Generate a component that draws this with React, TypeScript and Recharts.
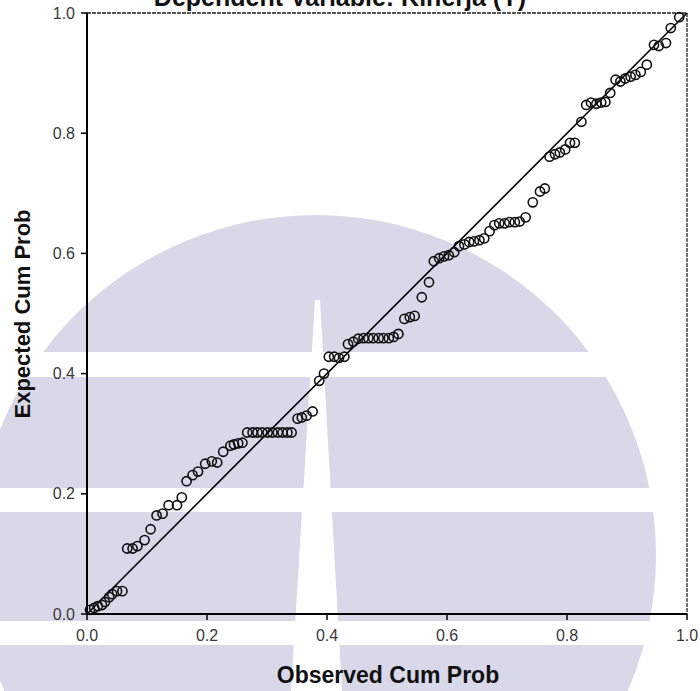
import React from "react";
import { ScatterChart, Scatter, XAxis, YAxis, ReferenceLine, ReferenceArea } from "recharts";

// Normal P-P plot of regression standardized residual
const chartTitle = "Dependent Variable: Kinerja (Y)";
const xTitle = "Observed Cum Prob";
const yTitle = "Expected Cum Prob";

const axisTicks = [0, 0.2, 0.4, 0.6, 0.8, 1.0];

const observedCumProb = [
  0.005, 0.012, 0.018, 0.025, 0.03, 0.037, 0.042, 0.05, 0.059, 0.067,
  0.076, 0.084, 0.096, 0.106, 0.116, 0.126, 0.136, 0.15, 0.158, 0.166,
  0.176, 0.185, 0.197, 0.208, 0.217, 0.227, 0.239, 0.245, 0.252, 0.259,
  0.267, 0.276, 0.284, 0.292, 0.301, 0.309, 0.318, 0.326, 0.334, 0.341,
  0.351, 0.358, 0.366, 0.376, 0.387, 0.395, 0.403, 0.412, 0.42, 0.429,
  0.435, 0.444, 0.452, 0.461, 0.469, 0.477, 0.486, 0.494, 0.503, 0.511,
  0.519, 0.529, 0.538, 0.546, 0.558, 0.57, 0.578, 0.587, 0.595, 0.603,
  0.612, 0.62, 0.629, 0.637, 0.645, 0.654, 0.662, 0.671, 0.679, 0.687,
  0.696, 0.704, 0.713, 0.721, 0.731, 0.743, 0.755, 0.763, 0.771, 0.78,
  0.788, 0.797, 0.805, 0.813, 0.824, 0.832, 0.84, 0.849, 0.857, 0.864,
  0.872, 0.881, 0.889, 0.897, 0.906, 0.914, 0.923, 0.933, 0.945, 0.953,
  0.965, 0.973, 0.987,
];

const expectedCumProb = [
  0.007, 0.01, 0.013, 0.015, 0.02, 0.028, 0.033, 0.038, 0.038, 0.109,
  0.109, 0.113, 0.123, 0.141, 0.164, 0.167, 0.181, 0.181, 0.194, 0.221,
  0.231, 0.237, 0.25, 0.254, 0.252, 0.27, 0.28, 0.282, 0.284, 0.285,
  0.302, 0.302, 0.302, 0.302, 0.302, 0.302, 0.302, 0.302, 0.302, 0.302,
  0.325, 0.327, 0.33, 0.337, 0.388, 0.4, 0.428, 0.428, 0.426, 0.428,
  0.449, 0.453, 0.458, 0.459, 0.459, 0.459, 0.459, 0.459, 0.459, 0.461,
  0.466, 0.491, 0.494, 0.496, 0.527, 0.552, 0.587, 0.592, 0.595, 0.597,
  0.602, 0.612, 0.615, 0.619, 0.62, 0.622, 0.625, 0.637, 0.647, 0.65,
  0.65, 0.652, 0.652, 0.653, 0.66, 0.685, 0.703, 0.708, 0.761, 0.765,
  0.768, 0.773, 0.784, 0.784, 0.819, 0.847, 0.851, 0.849, 0.851, 0.852,
  0.867, 0.889, 0.886, 0.891, 0.894, 0.897, 0.902, 0.914, 0.947, 0.945,
  0.95, 0.975, 0.993,
];

const points = observedCumProb.map((x, i) => ({ x, y: expectedCumProb[i] }));

const FONT = "'Liberation Sans', Arial, sans-serif";

const OpenCircle = (props: any) => {
  const { cx, cy } = props;
  if (cx == null || cy == null) return null;
  return <circle cx={cx} cy={cy} r={4.6} fill="none" stroke="#111" strokeWidth={1.6} />;
};

// faded logo watermark behind the plot
const Watermark = () => (
  <svg width={700} height={691} style={{ position: "absolute", left: 0, top: 0 }}>
    <rect x={0} y={0} width={700} height={691} fill="#fff" />
    <circle cx={316} cy={555} r={340} fill="#d9d8e9" />
    <rect x={0} y={352} width={700} height={25} fill="#fff" />
    <rect x={0} y={488} width={700} height={24} fill="#fff" />
    <rect x={0} y={621} width={700} height={24} fill="#fff" />
    <polygon points="315,300 320,300 342,691 291,691" fill="#fff" />
  </svg>
);

export default function App() {
  return (
    <div style={{ position: "absolute", left: 0, top: 0, width: 700, height: 691, overflow: "hidden" }}>
      <Watermark />
      <div style={{ position: "absolute", left: 0, top: 0 }}>
        <ScatterChart width={700} height={691} margin={{ top: 13, right: 13, bottom: 0, left: 0 }}>
          <ReferenceArea x1={0} x2={1} y1={0} y2={1} fill="none" stroke="#222" strokeWidth={1.3} strokeDasharray="4 1" />
          <XAxis
            type="number"
            dataKey="x"
            domain={[0, 1]}
            ticks={axisTicks}
            tickFormatter={(v: number) => v.toFixed(1)}
            height={77}
            axisLine={{ stroke: "#000", strokeWidth: 2 }}
            tickLine={{ stroke: "#000", strokeWidth: 1.5 }}
            tickSize={6}
            tickMargin={10}
            tick={{ fill: "#3a3a3a", fontSize: 16, fontFamily: FONT }}
          />
          <YAxis
            type="number"
            dataKey="y"
            domain={[0, 1]}
            ticks={axisTicks}
            tickFormatter={(v: number) => v.toFixed(1)}
            width={87}
            axisLine={{ stroke: "#000", strokeWidth: 2 }}
            tickLine={{ stroke: "#000", strokeWidth: 1.5 }}
            tickSize={6}
            tickMargin={6}
            tick={{ fill: "#3a3a3a", fontSize: 16, fontFamily: FONT }}
          />
          <ReferenceLine
            segment={[{ x: 0, y: 0 }, { x: 1, y: 1 }]}
            stroke="#000"
            strokeWidth={1.6}
          />
          <Scatter data={points} shape={OpenCircle} isAnimationActive={false} />
        </ScatterChart>
      </div>
      <svg width={700} height={691} style={{ position: "absolute", left: 0, top: 0, pointerEvents: "none" }}>
        <text x={340} y={6} textAnchor="middle" fontFamily={FONT} fontWeight="bold" fontSize={25} fill="#111">
          {chartTitle}
        </text>
        <text x={388} y={683} textAnchor="middle" fontFamily={FONT} fontWeight="bold" fontSize={23} fill="#111">
          {xTitle}
        </text>
        <text
          x={30}
          y={314}
          textAnchor="middle"
          fontFamily={FONT}
          fontWeight="bold"
          fontSize={22}
          fill="#111"
          transform="rotate(-90 30 314)"
        >
          {yTitle}
        </text>
      </svg>
    </div>
  );
}
